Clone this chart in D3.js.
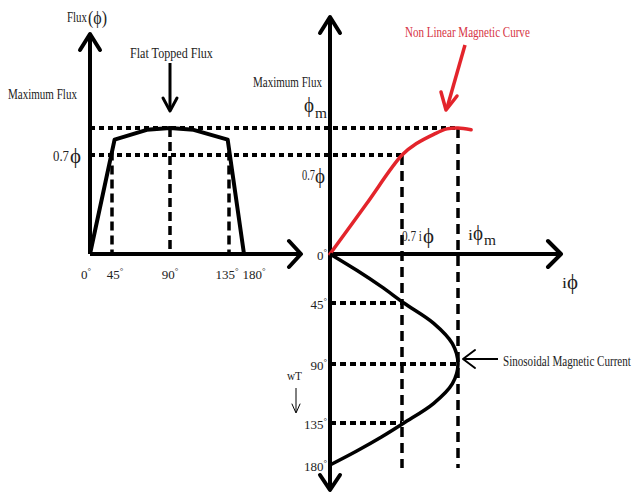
<!DOCTYPE html>
<html>
<head>
<meta charset="utf-8">
<script src="https://cdn.jsdelivr.net/npm/d3@7"></script>
<style>
  body { margin: 0; background: #fff; }
  text { font-family: "Liberation Serif", "DejaVu Serif", serif; fill: #222; }
</style>
</head>
<body>
<div id="chart"></div>
<script>
//Flat topped flux vs wt, non linear magnetic curve, and resulting magnetising current

//Left plot: flux over one half cycle (degrees, per-unit of max flux)
let flux_deg = [0, 47, 72, 90, 108, 134, 180];
let flux_val = [0, 0.87, 0.98, 1, 0.98, 0.87, 0];
//Magnetisation curve: current (per-unit of i phi m) vs flux
let mag_i = [0, 0.35, 0.7, 0.78, 0.87, 0.94, 1, 1.07];
let mag_flux = [0, 0.35, 0.7, 0.83, 0.93, 0.99, 1, 0.98];
//Magnetising current over the half cycle
let cur_deg = [0, 15, 30, 45, 60, 75, 90, 105, 120, 135, 150, 165, 180];
let cur_val = [0, 0.26, 0.5, 0.71, 0.87, 0.97, 1, 0.97, 0.87, 0.71, 0.5, 0.26, 0];
//Tick labels
let deg_ticks = [0, 45, 90, 135, 180];
let cur_marks = [0.7, 1];

let width = 634, height = 493;
let svg = d3.select('#chart').append('svg').attr('width', width).attr('height', height);

//Scales (piecewise to follow the hand drawn spacing)
let xDeg = d3.scaleLinear().domain(deg_ticks).range([90, 112, 170, 229, 244]);
let yFlux = d3.scaleLinear().domain([0, 0.7, 1]).range([254, 155, 128]);
let xCur = d3.scaleLinear().domain([0, 0.7, 1]).range([330, 402, 458]);
let yDeg = d3.scaleLinear().domain(deg_ticks).range([254, 303, 364, 423, 465]);

function seg(x1, y1, x2, y2, w, dash, color) {
    let l = svg.append('line').attr('x1', x1).attr('y1', y1).attr('x2', x2).attr('y2', y2)
        .attr('stroke', color || '#000').attr('stroke-width', w);
    if (dash) l.attr('stroke-dasharray', dash);
    return l;
}
function chevron(pts, w, color) {
    svg.append('path').attr('d', d3.line()(pts)).attr('fill', 'none')
        .attr('stroke', color || '#000').attr('stroke-width', w)
        .attr('stroke-linecap', 'round').attr('stroke-linejoin', 'round');
}
//Text squeezed horizontally to a target width (the reference font is condensed)
function label(x, y, txt, size, len, color) {
    let g = svg.append('g');
    let t = g.append('text').attr('font-size', size).text(txt);
    if (color) t.style('fill', color);
    let sx = len ? len / t.node().getComputedTextLength() : 1;
    g.attr('transform', 'translate(' + x + ',' + y + ') scale(' + sx + ',1)');
    return t;
}
function degLabel(x, y, d, anchor) {
    let t = svg.append('text').attr('x', x).attr('y', y).attr('font-size', 13)
        .attr('text-anchor', anchor || 'middle');
    t.append('tspan').text(d);
    t.append('tspan').attr('font-size', 9).attr('dy', -5).text('°');
}

//Guide lines: max flux and 0.7 flux
seg(90, yFlux(1), xCur(1), yFlux(1), 4, '5,4');
seg(90, yFlux(0.7), xCur(0.7), yFlux(0.7), 4, '5,4');
//Left verticals
seg(xDeg(45), yFlux(0.74), xDeg(45), yFlux(0), 3.5, '9,5');
seg(xDeg(90), yFlux(1), xDeg(90), yFlux(0), 3.5, '9,5');
seg(xDeg(135), yFlux(0.74), xDeg(135), yFlux(0), 3.5, '9,5');
//Right verticals
cur_marks.forEach(c => {
    let fy = c === 1 ? yFlux(1) : yFlux(0.7);
    seg(xCur(c), fy, xCur(c), 468, 3.5, '10,6');
});
//Lower horizontals
seg(330, yDeg(45), xCur(0.7), yDeg(45), 4, '6,4');
seg(330, yDeg(90), xCur(1), yDeg(90), 4, '6,4');
seg(330, yDeg(135), xCur(0.7), yDeg(135), 4, '6,4');

//Axes - left
seg(90, yFlux(0), 90, 35, 4);
chevron([[80, 50], [90, 34], [100, 50]], 4);
seg(90, yFlux(0), 300, yFlux(0), 4);
chevron([[289, 241], [301, 254], [289, 267]], 4);
//Axes - right
seg(330, 18, 330, 489, 4);
chevron([[320, 33], [330, 17], [340, 33]], 4);
chevron([[320, 475], [330, 490], [340, 475]], 4);
seg(330, yFlux(0), 560, yFlux(0), 4);
chevron([[548, 241], [561, 254], [548, 267]], 4);

//Flat topped flux
let fluxLine = d3.line().x(d => xDeg(d[0])).y(d => yFlux(d[1]));
svg.append('path').attr('d', fluxLine(d3.zip(flux_deg, flux_val)))
    .attr('fill', 'none').attr('stroke', '#000').attr('stroke-width', 4).attr('stroke-linejoin', 'round');

//Magnetic curve
let magLine = d3.line().x(d => xCur(d[0])).y(d => yFlux(d[1])).curve(d3.curveCatmullRom.alpha(0.5));
svg.append('path').attr('d', magLine(d3.zip(mag_i, mag_flux)))
    .attr('fill', 'none').attr('stroke', '#e3242b').attr('stroke-width', 3.5).attr('stroke-linecap', 'round');

//Sinusoidal current
let curLine = d3.line().x(d => xCur(d[1])).y(d => yDeg(d[0])).curve(d3.curveCatmullRom.alpha(0.5));
svg.append('path').attr('d', curLine(d3.zip(cur_deg, cur_val)))
    .attr('fill', 'none').attr('stroke', '#000').attr('stroke-width', 3.5);

//Annotation arrows
seg(170, 63, 170, 110, 3);
chevron([[163, 98], [170, 111], [177, 98]], 3);
seg(465, 45, 447, 108, 3.5, null, '#e3242b');
chevron([[441, 92], [446, 110], [457, 96]], 3.5, '#e3242b');
seg(498, 359, 464, 359, 2);
chevron([[475, 350], [463, 359], [475, 368]], 2);
seg(296, 388, 296, 412, 1);
chevron([[292, 404], [296, 413], [300, 404]], 1);

//Text - left plot
label(67, 22, 'Flux', 14, 20);
label(88, 24, '(ϕ)', 19, 19);
label(130, 58, 'Flat Topped Flux', 15, 83);
label(8, 99, 'Maximum Flux', 15, 69);
label(53, 161, '0.7', 14, 16);
label(70, 163, 'ϕ', 20, 11);
let xs = [86, 115, 170, 227, 254];
deg_ticks.forEach((d, i) => degLabel(xs[i], 279, d));

//Text - right plot
label(405, 37, 'Non Linear Magnetic Curve', 15, 125, '#d63444');
label(253, 87, 'Maximum Flux', 14, 69);
label(304, 112, 'ϕ', 21, 10);
label(315, 118, 'm', 14, 12);
label(302, 180, '0.7', 14, 13);
label(315, 183, 'ϕ', 20, 10);
degLabel(322, 260, 0);
label(402, 241, '0.7 i', 14, 20);
label(423, 243, 'ϕ', 20, 11);
label(468, 240, 'i', 15, 5);
label(473, 240, 'ϕ', 20, 10);
label(484, 245, 'm', 14, 12);
label(562, 288, 'i', 15, 5);
label(567, 289, 'ϕ', 20, 11);
deg_ticks.slice(1).forEach(d => degLabel(327, yDeg(d) + 6, d, 'end'));
label(287, 380, 'wT', 13, 15);
label(503, 366, 'Sinosoidal Magnetic Current', 15, 128);
</script>
</body>
</html>
